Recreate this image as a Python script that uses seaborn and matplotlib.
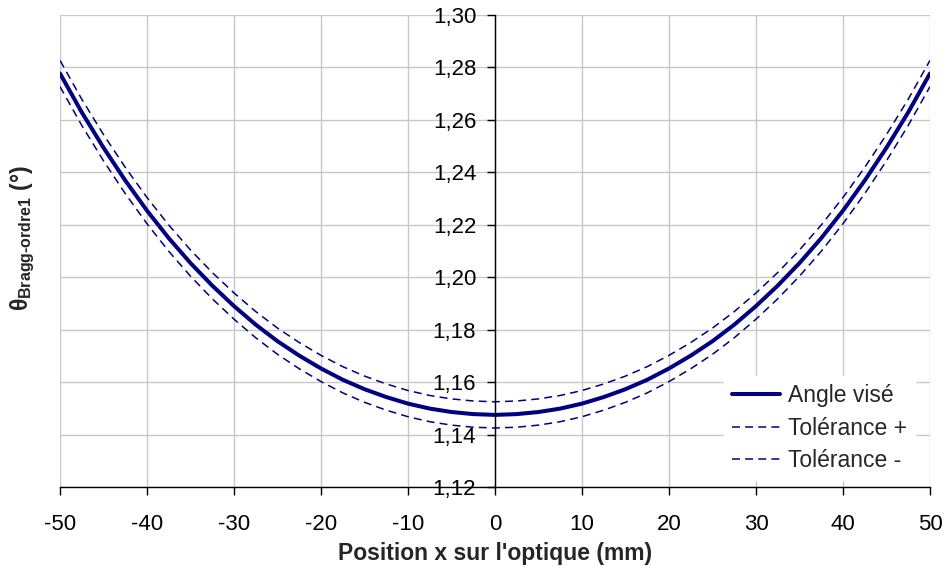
import matplotlib
matplotlib.use("Agg")
import matplotlib.pyplot as plt
from matplotlib.ticker import FuncFormatter, MultipleLocator
import seaborn as sns
import pandas as pd

# Data
position_mm = [-50, -47.5, -45, -42.5, -40, -37.5, -35, -32.5, -30, -27.5, -25,
               -22.5, -20, -17.5, -15, -12.5, -10, -7.5, -5, -2.5, 0,
               2.5, 5, 7.5, 10, 12.5, 15, 17.5, 20, 22.5, 25,
               27.5, 30, 32.5, 35, 37.5, 40, 42.5, 45, 47.5, 50]
angle_vise = [1.2777, 1.2629, 1.2494, 1.2369, 1.2254, 1.2149, 1.2054, 1.1968, 1.1890, 1.1819, 1.1756,
              1.1701, 1.1652, 1.1609, 1.1573, 1.1543, 1.1518, 1.1499, 1.1486, 1.1478, 1.1475,
              1.1478, 1.1486, 1.1499, 1.1518, 1.1543, 1.1573, 1.1609, 1.1652, 1.1701, 1.1756,
              1.1819, 1.1890, 1.1968, 1.2054, 1.2149, 1.2254, 1.2369, 1.2494, 1.2629, 1.2777]
tolerance_plus = [1.2827, 1.2679, 1.2544, 1.2419, 1.2304, 1.2199, 1.2104, 1.2018, 1.1940, 1.1869, 1.1806,
                  1.1751, 1.1702, 1.1659, 1.1623, 1.1593, 1.1568, 1.1549, 1.1536, 1.1528, 1.1525,
                  1.1528, 1.1536, 1.1549, 1.1568, 1.1593, 1.1623, 1.1659, 1.1702, 1.1751, 1.1806,
                  1.1869, 1.1940, 1.2018, 1.2104, 1.2199, 1.2304, 1.2419, 1.2544, 1.2679, 1.2827]
tolerance_minus = [1.2727, 1.2579, 1.2444, 1.2319, 1.2204, 1.2099, 1.2004, 1.1918, 1.1840, 1.1769, 1.1706,
                   1.1651, 1.1602, 1.1559, 1.1523, 1.1493, 1.1468, 1.1449, 1.1436, 1.1428, 1.1425,
                   1.1428, 1.1436, 1.1449, 1.1468, 1.1493, 1.1523, 1.1559, 1.1602, 1.1651, 1.1706,
                   1.1769, 1.1840, 1.1918, 1.2004, 1.2099, 1.2204, 1.2319, 1.2444, 1.2579, 1.2727]
series_labels = ["Angle visé", "Tolérance +", "Tolérance -"]
x_ticks = [-50, -40, -30, -20, -10, 0, 10, 20, 30, 40, 50]

sns.set_style("white")
plt.rcParams["font.family"] = ["Liberation Sans", "DejaVu Sans"]
plt.rcParams["axes.unicode_minus"] = False
plt.rcParams["mathtext.fontset"] = "custom"
plt.rcParams["mathtext.rm"] = "Liberation Sans:bold"
plt.rcParams["mathtext.it"] = "Liberation Sans:bold"
plt.rcParams["mathtext.bf"] = "Liberation Sans:bold"
plt.rcParams["mathtext.sf"] = "Liberation Sans:bold"

fig = plt.figure(figsize=(9.45, 5.66), dpi=100)
ax = fig.add_axes([60 / 945, 1 - 487 / 566, 870 / 945, 472 / 566])

df = pd.DataFrame({"x": position_mm, "a": angle_vise, "p": tolerance_plus, "m": tolerance_minus})
navy = "#000080"
sns.lineplot(data=df, x="x", y="a", ax=ax, color=navy, linewidth=2.9, label=series_labels[0], sort=False)
sns.lineplot(data=df, x="x", y="p", ax=ax, color=navy, linewidth=1.1, label=series_labels[1], sort=False)
sns.lineplot(data=df, x="x", y="m", ax=ax, color=navy, linewidth=1.1, label=series_labels[2], sort=False)
for ln in ax.lines[1:3]:
    ln.set_dashes((5.2, 3.4))

ax.set_xlim(-50, 50)
ax.set_ylim(1.12, 1.30)
ax.set_xticks(x_ticks)
ax.yaxis.set_major_locator(MultipleLocator(0.02))
ax.xaxis.set_major_formatter(FuncFormatter(lambda v, p: f"{v:.0f}"))
ax.yaxis.set_major_formatter(FuncFormatter(lambda v, p: f"{v:.2f}".replace(".", ",")))

ax.grid(True, color="#c8c8c8", linewidth=1.0)
ax.set_axisbelow(True)
for s in ["top", "right"]:
    ax.spines[s].set_visible(False)
ax.spines["left"].set_position(("data", 0))
ax.spines["left"].set_color("black")
ax.spines["left"].set_linewidth(1.0)
ax.spines["bottom"].set_color("black")
ax.spines["bottom"].set_linewidth(1.0)

ax.tick_params(axis="x", direction="out", length=5.5, width=1, colors="black", labelsize=16, pad=14, bottom=True)
ax.tick_params(axis="y", direction="out", length=5.5, width=1, colors="black", labelsize=16, pad=8, left=True)

ax.set_xlabel("Position x sur l'optique (mm)", fontsize=16.5, fontweight="bold", labelpad=5)
ax.set_ylabel(r"$\theta_{\text{Bragg-ordre1}}$ (°)", fontsize=16.5, fontweight="bold")
ax.yaxis.set_label_coords(-0.027, 0.528)

leg = ax.legend(loc="lower right", bbox_to_anchor=(0.996, -0.01), frameon=True, fontsize=16.5,
                handlelength=2.1, handletextpad=0.35, labelspacing=0.42, borderpad=0.35,
                fancybox=False)
leg.get_frame().set_facecolor("white")
leg.get_frame().set_edgecolor("white")
leg.get_frame().set_alpha(1.0)

fig.savefig("out.png", dpi=100)
